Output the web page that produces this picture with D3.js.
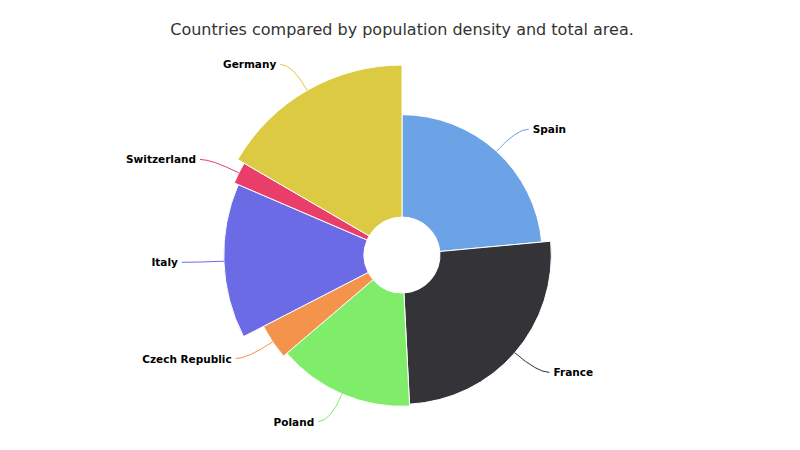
<!DOCTYPE html>
<html><head><meta charset="utf-8">
<script src="https://cdn.jsdelivr.net/npm/d3@7/dist/d3.min.js"></script>
<style>body{margin:0;background:#fff}</style>
</head><body>
<svg id="chart" width="800" height="450"></svg>
<script>
var countries = ["Spain", "France", "Poland", "Czech Republic", "Italy", "Switzerland", "Germany"];
var areas = [505370, 551500, 312685, 78867, 301340, 41277, 357022];
var densities = [92.9, 118.7, 124.6, 137.5, 201.8, 214.5, 235.6];
var colors = ["#6ba3e6", "#343438", "#80ed6a", "#f4934b", "#6c6be6", "#ea3e6a", "#dbca42"];

var svg = d3.select("#chart");
var cx = 402, cy = 255;
svg.append("text").attr("x", 402).attr("y", 35).attr("text-anchor", "middle")
  .style("font-family", "Lucida Grande, DejaVu Sans, sans-serif").style("font-size", "16px")
  .attr("fill", "#333").text("Countries compared by population density and total area.");

var data = countries.map(function(c, i){ return {name: c, area: areas[i], z: densities[i], color: colors[i]}; });
var pie = d3.pie().sort(null).value(function(d){ return d.area; });
var rScale = d3.scaleLinear().domain([0, d3.max(densities)]).range([108, 190]);
var inner = 38;

var g = svg.append("g").attr("transform", "translate(" + cx + "," + cy + ")");
var arcs = pie(data);
arcs.forEach(function(a){
  var r = rScale(a.data.z);
  g.append("path").attr("d", d3.arc().innerRadius(inner).outerRadius(r)(a))
    .attr("fill", a.data.color).attr("stroke", "#fff").attr("stroke-width", 1);
  var mid = (a.startAngle + a.endAngle) / 2;
  var sx = Math.sin(mid), sy = -Math.cos(mid);
  var p0 = [sx * r, sy * r];
  var p1 = [sx * (r + 30), sy * (r + 30)];
  var right = sx >= 0;
  var p2 = [p1[0] + (right ? 12 : -12), p1[1]];
  g.append("path").attr("d", "M" + p0 + "Q" + p1 + " " + p2)
    .attr("fill", "none").attr("stroke", a.data.color).attr("stroke-width", 1);
  g.append("text").attr("x", p2[0] + (right ? 4 : -4)).attr("y", p2[1] + 4)
    .attr("text-anchor", right ? "start" : "end")
    .style("font-family", "Lucida Grande, DejaVu Sans, sans-serif").style("font-size", "10.5px")
    .style("font-weight", "bold").attr("fill", "#000").text(a.data.name);
});
</script>
</body></html>
